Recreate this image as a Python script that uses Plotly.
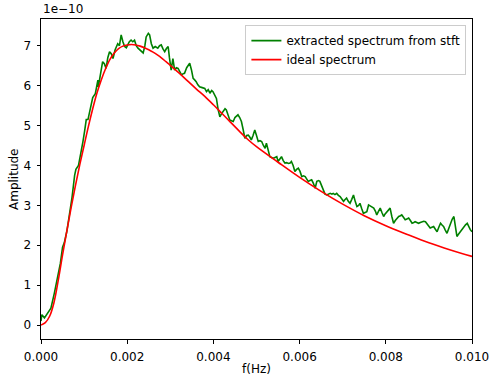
import plotly.graph_objects as go

# ideal spectrum (amplitude in units of 1e-10)
RED_F = [0.0, 0.0001, 0.0002, 0.0003, 0.0004, 0.0005, 0.0006, 0.0007, 0.0008, 0.0009,
         0.0010, 0.0011, 0.0012, 0.0013, 0.0014, 0.0015, 0.0016, 0.0017, 0.0018, 0.0019,
         0.0020, 0.0021, 0.0022, 0.0023, 0.0024, 0.0025, 0.0026, 0.0027, 0.0028, 0.0029,
         0.0030, 0.0032, 0.0034, 0.0036, 0.0038, 0.0040, 0.0042, 0.0044, 0.0046, 0.0048,
         0.0050, 0.0055, 0.0060, 0.0065, 0.0070, 0.0075, 0.0080, 0.0085, 0.0090, 0.0095, 0.0100]
RED_A = [0.0, 0.06, 0.22, 0.56, 1.12, 1.76, 2.36, 2.95, 3.50, 4.02,
         4.50, 4.98, 5.42, 5.82, 6.15, 6.43, 6.66, 6.82, 6.93, 6.99,
         7.02, 7.03, 7.02, 6.99, 6.95, 6.90, 6.84, 6.77, 6.69, 6.60,
         6.51, 6.32, 6.12, 5.92, 5.73, 5.52, 5.30, 5.08, 4.86, 4.65,
         4.47, 4.08, 3.70, 3.35, 3.03, 2.74, 2.49, 2.27, 2.06, 1.88, 1.72]

# extracted spectrum from stft (amplitude in units of 1e-10)
GREEN_F = [0.00000, 0.00002, 0.00008, 0.00016, 0.00023, 0.00031, 0.00039, 0.00045, 0.00050, 0.00054,
           0.00060, 0.00066, 0.00072, 0.00078, 0.00081, 0.00087, 0.00093, 0.00097, 0.00101, 0.00105,
           0.00109, 0.00116, 0.00120, 0.00126, 0.00132, 0.00133, 0.00138, 0.00143, 0.00147, 0.00151,
           0.00155, 0.00159, 0.00163, 0.00167, 0.00172, 0.00178, 0.00182, 0.00186, 0.00190, 0.00194,
           0.00198, 0.00202, 0.00205, 0.00209, 0.00213, 0.00217, 0.00221, 0.00225, 0.00230, 0.00237,
           0.00241, 0.00244, 0.00249, 0.00252, 0.00256, 0.00260, 0.00265, 0.00271, 0.00275, 0.00279,
           0.00283, 0.00287, 0.00291, 0.00295, 0.00298, 0.00302, 0.00306, 0.00310, 0.00314, 0.00318,
           0.00322, 0.00326, 0.00330, 0.00333, 0.00338, 0.00345, 0.00349, 0.00353, 0.00356, 0.00360,
           0.00364, 0.00368, 0.00374, 0.00380, 0.00384, 0.00388, 0.00392, 0.00396, 0.00399, 0.00403,
           0.00407, 0.00411, 0.00415, 0.00419, 0.00423, 0.00427, 0.00430, 0.00434, 0.00438, 0.00442,
           0.00446, 0.00450, 0.00454, 0.00457, 0.00461, 0.00465, 0.00469, 0.00473, 0.00477, 0.00481,
           0.00485, 0.00488, 0.00492, 0.00496, 0.00500, 0.00504, 0.00508, 0.00512, 0.00516, 0.00520,
           0.00523, 0.00527, 0.00531, 0.00535, 0.00539, 0.00543, 0.00547, 0.00550, 0.00554, 0.00558,
           0.00562, 0.00566, 0.00570, 0.00574, 0.00578, 0.00581, 0.00585, 0.00589, 0.00593, 0.00597,
           0.00601, 0.00605, 0.00609, 0.00613, 0.00617, 0.00620, 0.00624, 0.00628, 0.00632, 0.00636,
           0.00640, 0.00644, 0.00647, 0.00651, 0.00655, 0.00659, 0.00663, 0.00667, 0.00671, 0.00675,
           0.00678, 0.00682, 0.00686, 0.00690, 0.00694, 0.00698, 0.00702, 0.00705, 0.00709, 0.00713,
           0.00717, 0.00721, 0.00725, 0.00729, 0.00733, 0.00737, 0.00740, 0.00744, 0.00748, 0.00752,
           0.00756, 0.00760, 0.00766, 0.00772, 0.00776, 0.00779, 0.00783, 0.00787, 0.00791, 0.00795,
           0.00798, 0.00802, 0.00806, 0.00810, 0.00814, 0.00818, 0.00822, 0.00826, 0.00830, 0.00834,
           0.00837, 0.00841, 0.00845, 0.00849, 0.00853, 0.00857, 0.00861, 0.00865, 0.00868, 0.00872,
           0.00876, 0.00880, 0.00884, 0.00888, 0.00892, 0.00895, 0.00899, 0.00903, 0.00907, 0.00911,
           0.00915, 0.00919, 0.00923, 0.00927, 0.00931, 0.00934, 0.00938, 0.00942, 0.00946, 0.00950,
           0.00954, 0.00958, 0.00961, 0.00965, 0.00969, 0.00973, 0.00977, 0.00981, 0.00985, 0.00989,
           0.00992, 0.00996, 0.01000]
GREEN_A = [0.10, 0.26, 0.18, 0.30, 0.42, 0.80, 1.20, 1.55, 1.95, 2.06,
           2.35, 2.75, 3.20, 3.75, 3.90, 4.00, 4.30, 4.58, 4.85, 5.15,
           5.15, 5.48, 5.70, 5.80, 6.14, 5.97, 6.25, 6.60, 6.55, 6.43,
           6.70, 6.85, 6.80, 6.68, 6.90, 7.05, 7.00, 7.27, 7.10, 6.98,
           6.95, 7.06, 7.10, 7.14, 7.10, 7.14, 7.00, 6.94, 6.88, 6.82,
           7.00, 7.22, 7.31, 7.27, 7.05, 6.94, 6.98, 6.94, 7.00, 7.02,
           6.92, 6.85, 6.93, 6.98, 6.70, 6.39, 6.68, 6.39, 6.45, 6.43,
           6.35, 6.27, 6.30, 6.31, 6.45, 6.56, 6.40, 6.18, 6.15, 6.10,
           6.02, 5.97, 5.95, 5.93, 5.85, 5.90, 5.81, 5.88, 5.85, 5.75,
           5.68, 5.40, 5.22, 5.30, 5.35, 5.42, 5.39, 5.25, 5.14, 5.12,
           5.10, 5.20, 5.25, 5.27, 5.20, 5.10, 4.90, 4.68, 4.75, 4.76,
           4.70, 4.64, 4.75, 4.89, 4.75, 4.60, 4.62, 4.60, 4.50, 4.43,
           4.56, 4.40, 4.22, 4.20, 4.18, 4.20, 4.22, 4.10, 4.15, 4.22,
           4.12, 4.06, 4.07, 4.05, 4.06, 4.10, 4.00, 3.85, 3.90, 3.93,
           3.85, 3.72, 3.74, 3.72, 3.65, 3.60, 3.62, 3.64, 3.55, 3.43,
           3.60, 3.62, 3.60, 3.48, 3.35, 3.28, 3.26, 3.28, 3.30, 3.28,
           3.30, 3.27, 3.30, 3.25, 3.22, 3.16, 3.10, 3.14, 3.18, 3.10,
           3.05, 3.15, 3.26, 3.10, 2.97, 3.00, 3.05, 2.92, 2.80, 2.82,
           2.84, 3.01, 2.97, 2.93, 2.85, 2.76, 2.85, 2.93, 2.82, 2.72,
           2.78, 2.84, 2.88, 2.93, 2.72, 2.55, 2.62, 2.68, 2.72, 2.74,
           2.76, 2.70, 2.64, 2.66, 2.68, 2.62, 2.55, 2.57, 2.59, 2.57,
           2.55, 2.57, 2.59, 2.60, 2.59, 2.55, 2.50, 2.43, 2.45, 2.47,
           2.40, 2.34, 2.45, 2.55, 2.50, 2.47, 2.38, 2.30, 2.42, 2.55,
           2.65, 2.72, 2.45, 2.22, 2.28, 2.34, 2.40, 2.47, 2.51, 2.55,
           2.47, 2.39, 2.34]

X_TICKS = [0.0, 0.002, 0.004, 0.006, 0.008, 0.010]
Y_TICKS = [0, 1, 2, 3, 4, 5, 6, 7]

FONT = "DejaVu Sans"
FS = 12

fig = go.Figure()
fig.add_trace(go.Scatter(x=GREEN_F, y=GREEN_A, mode="lines",
                         line=dict(color="#008000", width=1.6),
                         name="extracted spectrum from stft"))
fig.add_trace(go.Scatter(x=RED_F, y=RED_A, mode="lines", line_shape="spline",
                         line=dict(color="#ff0000", width=1.6),
                         name="ideal spectrum"))

axis_common = dict(showgrid=False, zeroline=False, showline=True, linecolor="black",
                   linewidth=1, mirror=True, ticks="outside", ticklen=3.5,
                   tickcolor="black", tickwidth=1, automargin=False,
                   ticklabelstandoff=3,
                   tickfont=dict(family=FONT, size=FS, color="black"))

fig.update_layout(
    width=491, height=375,
    margin=dict(l=41, r=19, t=19, b=36),
    paper_bgcolor="white", plot_bgcolor="white",
    font=dict(family=FONT, size=FS, color="black"),
    xaxis=dict(range=[0, 0.010], tickvals=X_TICKS,
               ticktext=[f"{v:.3f}" for v in X_TICKS], **axis_common),
    yaxis=dict(range=[-0.35, 7.67], tickvals=Y_TICKS,
               ticktext=[str(v) for v in Y_TICKS], **axis_common),
    legend=dict(x=0.987, xanchor="right", y=0.981, yanchor="top",
                bgcolor="rgba(255,255,255,0.8)", bordercolor="#cccccc", borderwidth=1,
                font=dict(family=FONT, size=FS), tracegroupgap=0, itemwidth=30),
    showlegend=True,
    annotations=[
        dict(text="1e\u221210", xref="paper", yref="paper", x=0, y=1,
             xanchor="left", yanchor="bottom", showarrow=False,
             font=dict(family=FONT, size=FS, color="black"), yshift=1),
        dict(text="f(Hz)", xref="paper", yref="paper", x=0.5, y=0,
             xanchor="center", yanchor="middle", showarrow=False,
             font=dict(family=FONT, size=FS, color="black"), yshift=-30),
        dict(text="Amplitude", xref="paper", yref="paper", x=0, y=0.5,
             xanchor="center", yanchor="middle", showarrow=False, textangle=-90,
             font=dict(family=FONT, size=FS, color="black"), xshift=-27),
    ],
)

fig.write_html("out.html")
